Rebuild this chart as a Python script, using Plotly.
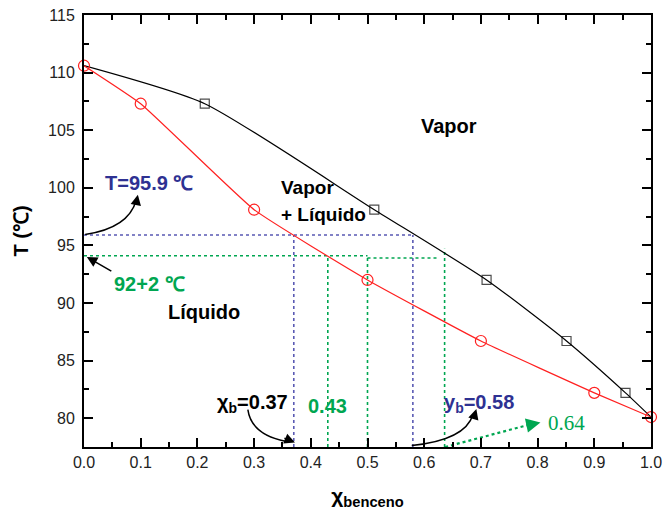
import plotly.graph_objects as go

# ---- data ----
liq_x = [0.0, 0.1, 0.3, 0.5, 0.7, 0.9, 1.0]
liq_T = [110.6, 107.3, 98.1, 92.0, 86.7, 82.2, 80.1]

vap_x = [0.0, 0.213, 0.512, 0.710, 0.851, 0.955, 1.0]
vap_T = [110.6, 107.3, 98.1, 92.0, 86.7, 82.2, 80.1]
vap_marker_size = [0, 9, 9, 9, 9, 9, 0]

T_boil = 95.9          # blue construction
x_b = 0.37
y_b = 0.58
T_range = 94.1         # green construction
x_green = [0.43, 0.50]
T_green2 = 93.9
x_green3 = 0.636
T_green3 = 94.7

x_ticks = [round(0.1 * i, 1) for i in range(11)]
y_ticks = [80, 85, 90, 95, 100, 105, 110, 115]

BLUE = "#5a5ab4"
BLUE_TXT = "#2e3192"
GREEN = "#00a651"
Y0 = 77.5

fig = go.Figure()

# construction lines (blue)
fig.add_trace(go.Scatter(x=[0, y_b], y=[T_boil, T_boil], mode="lines",
                         line=dict(color=BLUE, width=1.6, dash="dot"), hoverinfo="skip"))
for xv in [x_b, y_b]:
    fig.add_trace(go.Scatter(x=[xv, xv], y=[Y0, T_boil], mode="lines",
                             line=dict(color=BLUE, width=1.6, dash="dot"), hoverinfo="skip"))
# construction lines (green)
fig.add_trace(go.Scatter(x=[0, x_green[1]], y=[T_range, T_range], mode="lines",
                         line=dict(color=GREEN, width=1.6, dash="dot"), hoverinfo="skip"))
fig.add_trace(go.Scatter(x=[x_green[1], x_green3 - 0.01], y=[T_green2, T_green2], mode="lines",
                         line=dict(color=GREEN, width=1.6, dash="dot"), hoverinfo="skip"))
for xv in x_green:
    fig.add_trace(go.Scatter(x=[xv, xv], y=[Y0, T_range], mode="lines",
                             line=dict(color=GREEN, width=1.6, dash="dot"), hoverinfo="skip"))
fig.add_trace(go.Scatter(x=[x_green3, x_green3], y=[Y0, T_green3], mode="lines",
                         line=dict(color=GREEN, width=1.6, dash="dot"), hoverinfo="skip"))
# dotted arrow shaft towards 0.64
fig.add_trace(go.Scatter(x=[0.637, 0.79], y=[77.5, 79.5], mode="lines",
                         line=dict(color=GREEN, width=2.2, dash="dot"), hoverinfo="skip",
                         cliponaxis=False))

# curves
fig.add_trace(go.Scatter(x=vap_x, y=vap_T, mode="lines+markers",
                         line=dict(color="black", width=1.2, shape="spline", smoothing=0.6),
                         marker=dict(symbol="square-open", size=vap_marker_size, color="black",
                                     line=dict(width=1.2))))
fig.add_trace(go.Scatter(x=liq_x, y=liq_T, mode="lines+markers",
                         line=dict(color="#ff2020", width=1.2, shape="spline", smoothing=0.4),
                         marker=dict(symbol="circle-open", size=11, color="#ff2020",
                                     line=dict(width=1.2)), cliponaxis=False))

# curved arrow shafts
shapes = [
    dict(type="path", xref="x", yref="y", path="M 0.002,95.95 Q 0.078,96.5 0.092,98.9",
         line=dict(color="black", width=1.5)),
    dict(type="path", xref="x", yref="y", path="M 0.289,80.75 Q 0.295,78.6 0.355,78.0",
         line=dict(color="black", width=1.5)),
    dict(type="path", xref="x", yref="y", path="M 0.578,77.63 Q 0.672,78.1 0.686,80.3",
         line=dict(color="black", width=1.5)),
]

annotations = []
def txt(x, y, s, color="black", size=20, family="Liberation Sans, Arial", xanchor="center", bold=True):
    annotations.append(dict(x=x, y=y, xref="x", yref="y", text=(f"<b>{s}</b>" if bold else s),
                            showarrow=False, xanchor=xanchor, yanchor="middle",
                            font=dict(color=color, size=size, family=family)))

def head(x, y, ax, ay, color="black", size=1.4, width=1.5):
    annotations.append(dict(x=x, y=y, xref="x", yref="y", text="", showarrow=True,
                            ax=ax, ay=ay, arrowhead=2, arrowsize=size, arrowwidth=width,
                            arrowcolor=color))

txt(0.644, 105.4, "Vapor")
txt(0.344, 100.06, "Vapor", xanchor="left", size=19)
txt(0.344, 97.64, "+ Líquido", xanchor="left", size=19)
txt(0.212, 89.24, "Líquido")
txt(0.114, 100.44, "T=95.9 ℃", color=BLUE_TXT)
txt(0.116, 91.67, "92+2 ℃", color=GREEN)
txt(0.298, 81.3, "χ<sub>b</sub>=0.37")
txt(0.430, 81.1, "0.43", color=GREEN)
txt(0.697, 81.3, "y<sub>b</sub>=0.58", color=BLUE_TXT)
txt(0.851, 79.59, "0.64", color=GREEN, size=21, family="Liberation Serif, Times New Roman", bold=False)

head(0.095, 99.4, -2, 10)
head(0.372, 77.88, -12, -5)
head(0.692, 80.8, -3, 10)
head(0.005, 94.0, 26, 15)
head(0.805, 79.62, -14, 3, color=GREEN, size=1.3, width=2.2)

axis_common = dict(showline=True, linecolor="black", linewidth=2, mirror="ticks",
                   ticks="inside", ticklen=9, tickwidth=1.8, tickcolor="black",
                   showgrid=False, zeroline=False, automargin=False,
                   ticklabeloverflow="allow",
                   tickfont=dict(size=16, color="#222", family="Liberation Sans, Arial"))

fig.update_layout(
    width=663, height=517,
    margin=dict(l=84, r=12, t=15, b=70),
    plot_bgcolor="white", paper_bgcolor="white",
    showlegend=False,
    shapes=shapes, annotations=annotations,
    xaxis=dict(range=[0, 1], tickvals=x_ticks, ticktext=[f"{v:.1f}" for v in x_ticks],
               minor=dict(ticks="inside", ticklen=5, tickwidth=1.5, tickcolor="black", dtick=0.05),
               title=dict(text="<b>χ<sub>benceno</sub></b>", standoff=18,
                          font=dict(size=21, color="black", family="Liberation Sans, Arial")),
               **axis_common),
    yaxis=dict(range=[Y0, 115], tickvals=y_ticks,
               minor=dict(ticks="inside", ticklen=5, tickwidth=1.5, tickcolor="black", dtick=2.5),
               title=dict(text="<b>T (℃)</b>", standoff=14,
                          font=dict(size=20, color="black", family="Liberation Sans, Arial")),
               ticklabelstandoff=4,
               **axis_common),
)

# remove the default 8px page margin so the 663x517 figure fills the window exactly
fig.write_html("out.html", config={"displayModeBar": False},
               post_script="document.body.style.margin='0';document.body.style.overflow='hidden';")
